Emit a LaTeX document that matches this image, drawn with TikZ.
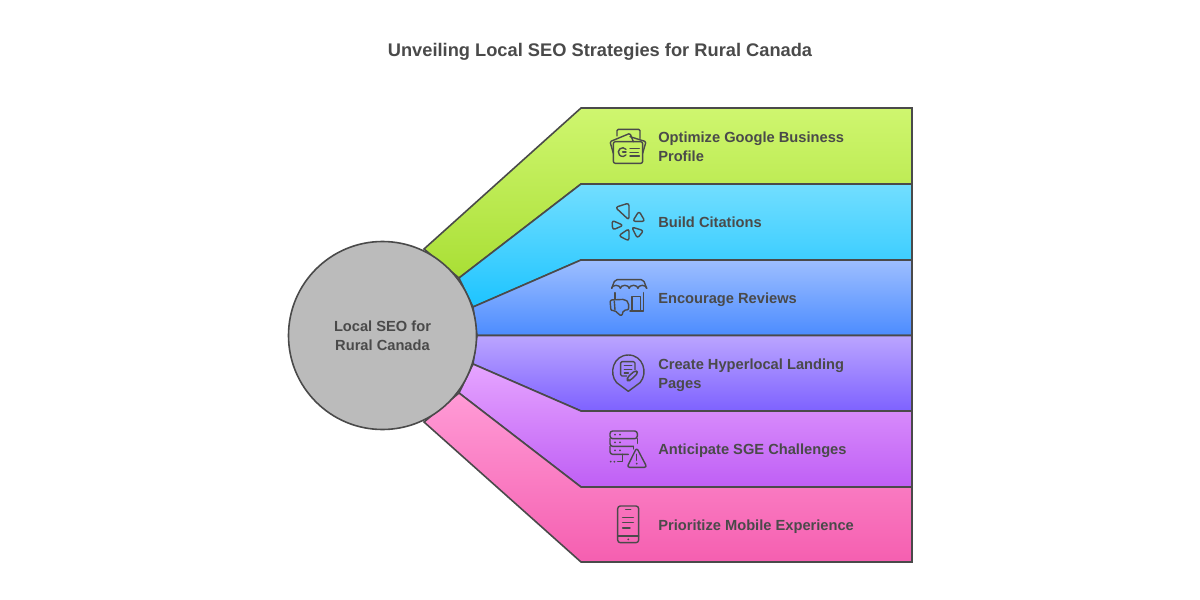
\documentclass[tikz,border=0pt]{standalone}
\usepackage{fontspec}
\setmainfont{Liberation Sans}
\definecolor{ink}{HTML}{4A4A4A}
\definecolor{limetop}{HTML}{CFF66F}
\definecolor{limebot}{HTML}{A9DF35}
\definecolor{skytop}{HTML}{72DEFF}
\definecolor{skybot}{HTML}{1DC4FF}
\definecolor{bluetop}{HTML}{9DBEFF}
\definecolor{bluebot}{HTML}{4C8CFF}
\definecolor{violettop}{HTML}{BBA5FF}
\definecolor{violetbot}{HTML}{7E62FF}
\definecolor{purpletop}{HTML}{E6A5FF}
\definecolor{purplebot}{HTML}{BF5FF5}
\definecolor{pinktop}{HTML}{FF9BD6}
\definecolor{pinkbot}{HTML}{F55FB0}
\definecolor{hubgray}{HTML}{BBBBBB}
\begin{document}
\begin{tikzpicture}[x=0.75pt,y=-0.75pt,
        band/.style={
            draw=ink,
            line width=1.2pt,
            line join=miter},
        hub/.style={
            circle,
            draw=ink,
            line width=1.2pt,
            fill=hubgray,
            minimum size=141pt,
            inner sep=0pt,
            text=ink,
            align=center,
            font=\bfseries\fontsize{11pt}{14.2pt}\selectfont},
        label/.style={
            anchor=west,
            inner sep=0pt,
            text=ink,
            align=left,
            font=\bfseries\fontsize{11pt}{14.2pt}\selectfont},
        icon/.style={
            draw=ink,
            line width=1.05pt,
            line join=round,
            line cap=round},
        iconA/.style={shift={(580,100)},x=0.25pt,y=-0.25pt},
        iconB/.style={shift={(580,335)},x=0.25pt,y=-0.25pt}
        ]

        \useasboundingbox (0,0) rectangle (1200,600);

        % bands
        \draw [band, top color=limetop, bottom color=limebot] (424,249) -- (581,108) -- (912,108) -- (912,184) -- (581,184) -- (459,278) -- cycle;
        \draw [band, top color=skytop, bottom color=skybot] (459,278) -- (581,184) -- (912,184) -- (912,260) -- (581,260) -- (473,307) -- cycle;
        \draw [band, top color=bluetop, bottom color=bluebot] (473,307) -- (581,260) -- (912,260) -- (912,335.5) -- (477,335.5) -- cycle;
        \draw [band, top color=violettop, bottom color=violetbot] (477,335.5) -- (912,335.5) -- (912,411) -- (581,411) -- (473,364) -- cycle;
        \draw [band, top color=purpletop, bottom color=purplebot] (473,364) -- (581,411) -- (912,411) -- (912,487) -- (581,487) -- (459,393) -- cycle;
        \draw [band, top color=pinktop, bottom color=pinkbot] (459,393) -- (581,487) -- (912,487) -- (912,562) -- (581,562) -- (424,422) -- cycle;

        \node (hubnode) [hub] at (382.5,335.5) {Local SEO for\\Rural Canada};

        \node (title) [text=ink, font=\bfseries\fontsize{13.7pt}{16pt}\selectfont] at (600,52) {Unveiling Local SEO Strategies for Rural Canada};

        \node (profile) [label] at (658,146.5) {Optimize Google Business\\Profile};
        \node (citations) [label] at (658,222) {Build Citations};
        \node (reviews) [label] at (658,300) {Encourage Reviews};
        \node (landing) [label] at (658,375.5) {Create Hyperlocal Landing\\Pages};
        \node (sge) [label] at (658,451) {Anticipate SGE Challenges};
        \node (mobile) [label] at (658,526.5) {Prioritize Mobile Experience};

        % google card
        \begin{scope}[iconA]
            \draw [icon, rounded corners=1.5pt] (100,125) rectangle (188,190);
            \draw [icon, rounded corners=1pt] (100,160) -- (90,125) -- (150,100) -- (160,125);
            \draw [icon, rounded corners=1pt] (150,110) -- (198,125) -- (188,160);
            \draw [icon, rounded corners=1pt] (111,108) -- (111,88) -- (180,88) -- (180,115);
            \draw [icon] (138,148) arc (-40:-320:13);
            \draw [icon] (138,156) -- (128,156);
            \draw [icon] (150,145) -- (178,145);
            \draw [icon] (150,157) -- (175,157);
            \draw [icon] (150,168) -- (178,168);
        \end{scope}

        % citations
        \begin{scope}[iconA]
            \draw [icon, rounded corners=2pt] (106,322) -- (147,309) -- (147,360) -- cycle;
            \draw [icon, rounded corners=2pt] (158,364) -- (177,333) -- (195,364) -- cycle;
            \draw [icon, rounded corners=2pt] (96,361) -- (130,376) -- (98,390) -- cycle;
            \draw [icon, rounded corners=2pt] (116,407) -- (147,386) -- (147,423) -- cycle;
            \draw [icon, rounded corners=2pt] (155,381) -- (191,392) -- (172,415) -- cycle;
        \end{scope}

        % store
        \begin{scope}[iconA]
            \draw [icon, rounded corners=1.5pt] (95,565) -- (105,539) -- (190,539) -- (200,565);
            \draw [icon] (95,565) arc (180:360:13.125 and 9) arc (180:360:13.125 and 9) arc (180:360:13.125 and 9) arc (180:360:13.125 and 9);
            \draw [icon] (105,578) -- (105,596);
            \draw [icon] (190,578) -- (190,633) -- (150,633);
            \draw [icon] (156,633) -- (156,590) -- (182,590) -- (182,633);
            \draw [icon, rounded corners=1.5pt] (90,600) -- (135,598) -- (146,608) -- (146,630) -- (130,630) -- (126,648) -- (114,642) -- (105,630) -- (93,633) -- cycle;
            \draw [icon] (105,630) -- (103,604);
        \end{scope}

        % pin
        \begin{scope}[iconB]
            \draw [icon] (145,169) -- (110,143) .. controls (85,115) and (100,60) .. (145,60) .. controls (190,60) and (205,115) .. (180,143) -- cycle;
            \draw [icon, rounded corners=1pt] (140,123) -- (122,123) -- (122,80) -- (165,80) -- (165,104);
            \draw [icon] (133,92) -- (155,92);
            \draw [icon] (133,104) -- (155,104);
            \draw [icon] (133,114) -- (145,114);
            \draw [icon, rounded corners=2pt] (142,137) -- (142,127) -- (166,106) -- (175,113) -- (150,137) -- cycle;
        \end{scope}

        % servers
        \begin{scope}[iconB]
            \draw [icon, rounded corners=2pt] (98,311) -- (90,311) -- (90,288) -- (172,288) -- (172,311) -- (98,311);
            \draw [icon, rounded corners=2pt] (160,334) -- (90,334) -- (90,311);
            \draw [icon, rounded corners=2pt] (172,311) -- (172,325);
            \draw [icon, rounded corners=2pt] (145,358) -- (90,358) -- (90,334);
            \draw [icon, rounded corners=2pt] (160,334) -- (160,342);
            \fill [ink] (105,299) circle (3) (120,299) circle (3) (105,322) circle (3) (120,322) circle (3) (105,346) circle (3) (120,346) circle (3) (92,380) circle (3) (103,380) circle (3);
            \draw [icon] (128,358) -- (128,380) -- (113,380);
            \draw [icon, rounded corners=2pt] (141,397) -- (170,338) -- (201,397) -- cycle;
            \draw [icon] (170,358) -- (170,376);
            \fill [ink] (170,386) circle (3);
        \end{scope}

        % phone
        \begin{scope}[iconB]
            \draw [icon, rounded corners=2pt] (113,513) rectangle (176,623);
            \draw [icon] (113,603) -- (176,603);
            \draw [icon] (137,523) -- (152,523);
            \draw [icon] (128,548) -- (160,548);
            \draw [icon] (128,563) -- (160,563);
            \draw [icon] (128,579) -- (150,579);
            \fill [ink] (145,613) circle (3);
        \end{scope}

\end{tikzpicture}
\end{document}
